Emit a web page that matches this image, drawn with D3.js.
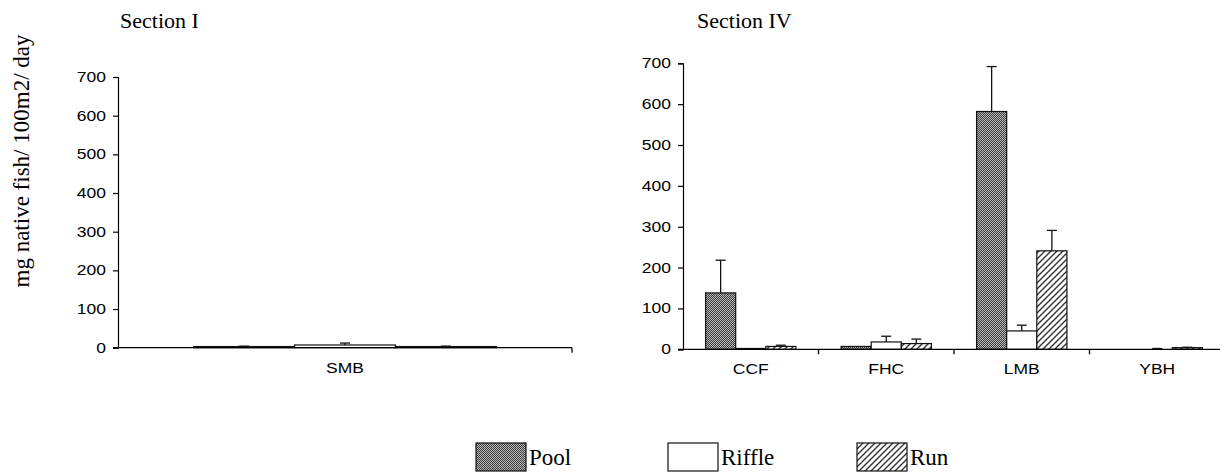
<!DOCTYPE html>
<html>
<head>
<meta charset="utf-8">
<script src="https://cdn.jsdelivr.net/npm/d3@7"></script>
<style>
  html, body { margin: 0; padding: 0; background: #fff; }
  svg { display: block; }
  .tick text { font-family: "Liberation Sans", Arial, sans-serif; font-size: 14px; fill: #000; }
</style>
</head>
<body>
<svg id="chart" width="1220" height="475"></svg>
<script>
const SERIES = ["Pool", "Riffle", "Run"];
const Y_TICKS = [0, 100, 200, 300, 400, 500, 600, 700];

// Section I
const sec1Categories = ["SMB"];
const sec1Pool = [3];
const sec1PoolErr = [1];
const sec1Riffle = [7];
const sec1RiffleErr = [5];
const sec1Run = [3];
const sec1RunErr = [1];

// Section IV
const sec4Categories = ["CCF", "FHC", "LMB", "YBH"];
const sec4Pool = [138, 7, 582, 0];
const sec4PoolErr = [80, 0, 110, 0];
const sec4Riffle = [2, 18, 45, 0];
const sec4RiffleErr = [0, 14, 14, 2];
const sec4Run = [7, 14, 241, 4];
const sec4RunErr = [3, 11, 50, 1];

const SERIF = '"Liberation Serif", "Times New Roman", Times, serif';
const SX = 1.25; // tick labels in the source are drawn wide

const svg = d3.select("#chart");
const defs = svg.append("defs");

// checkered dark fill for Pool
const pool = defs.append("pattern")
  .attr("id", "pat-pool").attr("patternUnits", "userSpaceOnUse")
  .attr("width", 2).attr("height", 2);
pool.append("rect").attr("width", 2).attr("height", 2).attr("fill", "#3a3a3a");
pool.append("rect").attr("x", 0).attr("y", 0).attr("width", 1).attr("height", 1).attr("fill", "#bcbcbc");
pool.append("rect").attr("x", 1).attr("y", 1).attr("width", 1).attr("height", 1).attr("fill", "#bcbcbc");

// diagonal hatch for Run
const run = defs.append("pattern")
  .attr("id", "pat-run").attr("patternUnits", "userSpaceOnUse")
  .attr("width", 6).attr("height", 6);
run.append("rect").attr("width", 6).attr("height", 6).attr("fill", "#fff");
run.append("path")
  .attr("d", "M0,6 L6,0 M-1,1 L1,-1 M5,7 L7,5")
  .attr("stroke", "#333").attr("stroke-width", 1.4);

const FILLS = { Pool: "url(#pat-pool)", Riffle: "#fff", Run: "url(#pat-run)" };

function widenText(sel) {
  sel.selectAll(".tick text")
    .attr("x", function () { return (+this.getAttribute("x") || 0) / SX; })
    .attr("transform", `scale(${SX},1)`);
}

function drawPanel(cfg) {
  const g = svg.append("g");
  const x = d3.scaleBand().domain(cfg.categories).range([cfg.x0, cfg.x1]);
  const xs = d3.scaleBand().domain(SERIES).range([0, x.bandwidth()]).paddingOuter(0.75);
  const y = d3.scaleLinear().domain([0, 700]).range([cfg.yBottom, cfg.yTop]);

  // y axis
  const yAxis = g.append("g")
    .attr("transform", `translate(${cfg.x0},0)`)
    .call(d3.axisLeft(y).tickValues(Y_TICKS).tickSize(5).tickPadding(7));
  yAxis.select(".domain").attr("stroke", "#000").attr("stroke-width", 1.2);
  yAxis.selectAll(".tick line").attr("stroke", "#000").attr("stroke-width", 1.2);
  widenText(yAxis);

  // bars
  const rows = [];
  cfg.categories.forEach((c, i) => {
    SERIES.forEach((s) => {
      rows.push({ cat: c, series: s, value: cfg.values[s][i], err: cfg.errors[s][i] });
    });
  });

  g.append("g").selectAll("rect")
    .data(rows.filter((d) => d.value > 0))
    .join("rect")
    .attr("x", (d) => x(d.cat) + xs(d.series))
    .attr("y", (d) => y(d.value))
    .attr("width", xs.bandwidth())
    .attr("height", (d) => y(0) - y(d.value))
    .attr("fill", (d) => FILLS[d.series])
    .attr("stroke", "#111")
    .attr("stroke-width", 1.2);

  // error bars (upper only)
  const eb = g.append("g").selectAll("g")
    .data(rows.filter((d) => d.err > 0))
    .join("g")
    .attr("stroke", "#111").attr("stroke-width", 1.3);
  const cx = (d) => x(d.cat) + xs(d.series) + xs.bandwidth() / 2;
  eb.append("line")
    .attr("x1", cx).attr("x2", cx)
    .attr("y1", (d) => y(d.value)).attr("y2", (d) => y(d.value + d.err));
  eb.append("line")
    .attr("x1", (d) => cx(d) - 5).attr("x2", (d) => cx(d) + 5)
    .attr("y1", (d) => y(d.value + d.err)).attr("y2", (d) => y(d.value + d.err));

  // x axis
  g.append("line")
    .attr("x1", cfg.x0 - 5).attr("x2", cfg.x1)
    .attr("y1", y(0)).attr("y2", y(0))
    .attr("stroke", "#000").attr("stroke-width", 1.3);
  g.append("g").selectAll("line")
    .data(cfg.categories)
    .join("line")
    .attr("x1", (c) => x(c) + x.bandwidth()).attr("x2", (c) => x(c) + x.bandwidth())
    .attr("y1", y(0)).attr("y2", y(0) + 5)
    .attr("stroke", "#000").attr("stroke-width", 1.3);

  const xAxis = g.append("g")
    .attr("transform", `translate(0,${y(0)})`)
    .call(d3.axisBottom(x).tickSize(0).tickPadding(15));
  xAxis.select(".domain").remove();
  widenText(xAxis);

  g.append("text")
    .attr("x", cfg.titleX).attr("y", 28)
    .attr("font-family", SERIF)
    .attr("font-size", 22)
    .text(cfg.title);
}

drawPanel({
  title: "Section I", titleX: 120,
  categories: sec1Categories,
  values: { Pool: sec1Pool, Riffle: sec1Riffle, Run: sec1Run },
  errors: { Pool: sec1PoolErr, Riffle: sec1RiffleErr, Run: sec1RunErr },
  x0: 118, x1: 572, yTop: 77, yBottom: 347.7,
});

drawPanel({
  title: "Section IV", titleX: 697,
  categories: sec4Categories,
  values: { Pool: sec4Pool, Riffle: sec4Riffle, Run: sec4Run },
  errors: { Pool: sec4PoolErr, Riffle: sec4RiffleErr, Run: sec4RunErr },
  x0: 683, x1: 1225, yTop: 63.3, yBottom: 349.3,
});

// y axis title
svg.append("text")
  .attr("transform", "translate(29,161) rotate(-90)")
  .attr("text-anchor", "middle")
  .attr("font-family", SERIF)
  .attr("font-size", 23)
  .text("mg native fish/ 100m2/ day");

// legend
const legend = svg.append("g").attr("transform", "translate(476,443)");
const item = legend.selectAll("g")
  .data(SERIES)
  .join("g")
  .attr("transform", (d, i) => `translate(${[0, 192, 381][i]},0)`);
item.append("rect")
  .attr("width", 50).attr("height", 28)
  .attr("fill", (d) => FILLS[d])
  .attr("stroke", "#111").attr("stroke-width", 1.2);
item.append("text")
  .attr("x", 53).attr("y", 22)
  .attr("font-family", SERIF)
  .attr("font-size", 23)
  .text((d) => d);
</script>
</body>
</html>
